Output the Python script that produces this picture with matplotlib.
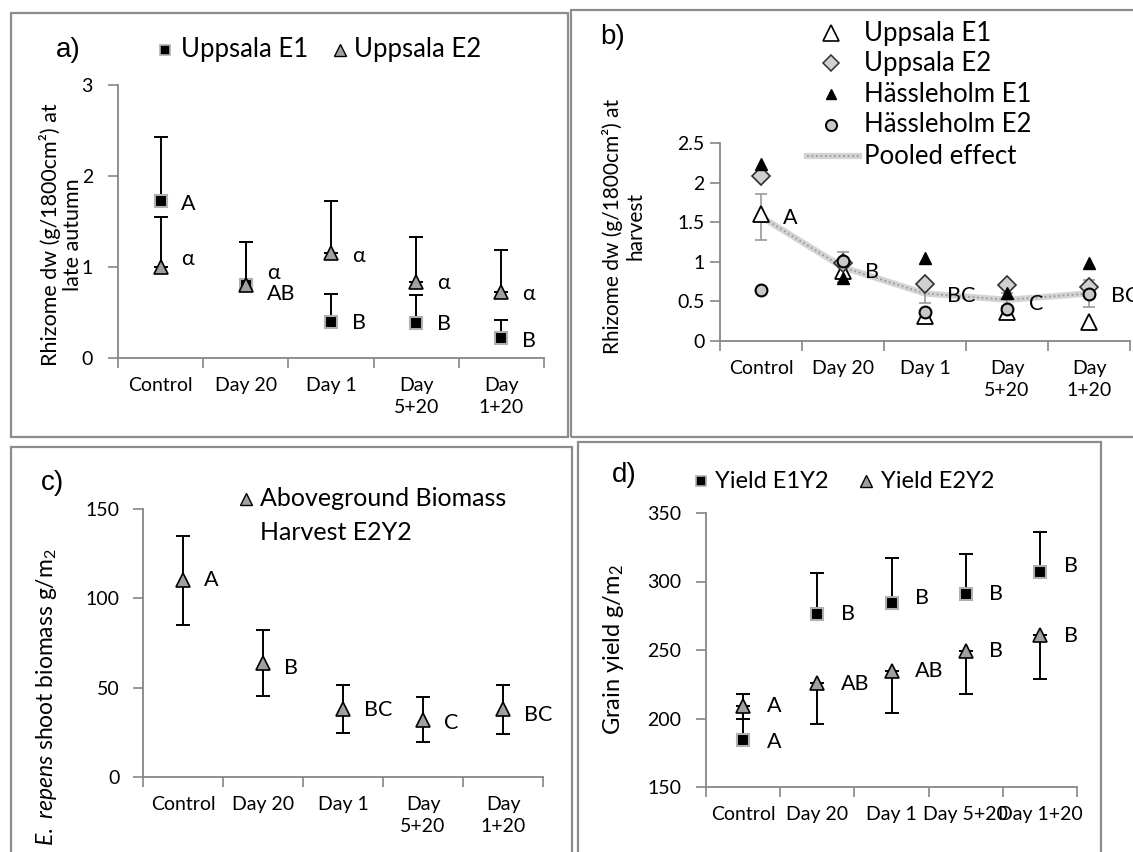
import matplotlib
matplotlib.use("Agg")
import matplotlib.pyplot as plt
from matplotlib.lines import Line2D
from matplotlib.patches import Rectangle
import numpy as np

W, H = 1133, 852

plt.rcParams["font.family"] = ["Lato", "DejaVu Sans"]
plt.rcParams["mathtext.fontset"] = "custom"
plt.rcParams["mathtext.rm"] = "Lato"
plt.rcParams["mathtext.it"] = "Lato:italic"

fs_ticks = 14
fs_text = 15.5
fs_panel = 20
axis_grey = "#868686"
frame_grey = "#8c8c8c"
marker_grey = "#a0a0a0"

# ---------------- data ----------------
categories = ["Control", "Day 20", "Day 1", "Day\n5+20", "Day\n1+20"]
categories_d = ["Control", "Day 20", "Day 1", "Day 5+20", "Day 1+20"]

# a) rhizome dw at late autumn
uppsala_e1_autumn = [1.72, 0.80, 0.40, 0.39, 0.22]
uppsala_e1_autumn_err = [0.71, 0.48, 0.30, 0.30, 0.20]
uppsala_e2_autumn = [1.00, 0.80, 1.15, 0.84, 0.72]
uppsala_e2_autumn_err = [0.55, 0.48, 0.57, 0.49, 0.47]
letters_e1_autumn = ["A", "AB", "B", "B", "B"]
letters_e2_autumn = ["α", "α", "α", "α", "α"]

# b) rhizome dw at harvest
uppsala_e1_harvest = [1.60, 0.88, 0.32, 0.36, 0.24]
uppsala_e2_harvest = [2.08, 0.98, 0.72, 0.71, 0.68]
hassleholm_e1_harvest = [2.24, 0.79, 1.05, 0.60, 0.98]
hassleholm_e2_harvest = [0.65, 1.01, 0.36, 0.40, 0.59]
pooled_harvest = [1.57, 0.93, 0.60, 0.52, 0.60]
pooled_harvest_err = [0.29, 0.19, 0.12, 0.08, 0.17]
letters_pooled = ["A", "B", "BC", "C", "BC"]

# c) aboveground biomass
biomass_e2y2 = [110, 64, 38, 32, 38]
biomass_e2y2_err = [25, 18.5, 13.5, 12.5, 13.7]
letters_biomass = ["A", "B", "BC", "C", "BC"]

# d) grain yield
yield_e1y2 = [184, 276, 284, 291, 307]
yield_e1y2_err = [34, 30, 33, 29, 29]
yield_e2y2 = [209, 226, 235, 249, 261]
yield_e2y2_err = [9, 30, 31, 31, 32]
letters_yield_e1 = ["A", "B", "B", "B", "B"]
letters_yield_e2 = ["A", "AB", "AB", "B", "B"]

# vertical nudges of the letters (points)
nudge_a_e1 = [-2, -6, -1, -1, -2]
nudge_a_e2 = [6, 9, -2, -1, -1]
nudge_b = [-1, -3, -2, -3, -2]
nudge_c = [0, -4, -1, -2, -4]
nudge_d_e1 = [-1, 0, 4, 0, 4]
nudge_d_e2 = [0, -1, 0, 0, -1]

fig = plt.figure(figsize=(W / 100, H / 100), dpi=100)


def fxy(x, y):
    return x / W, 1 - y / H


def px_axes(left, top, right, bottom):
    return fig.add_axes([left / W, 1 - bottom / H, (right - left) / W, (bottom - top) / H])


def style_axes(ax, cats, ylim, yticks, ypad):
    ax.set_xlim(-0.5, 4.5)
    ax.set_ylim(ylim)
    ax.set_yticks(yticks)
    ax.set_yticklabels([f"{t:g}" for t in yticks])
    ax.set_xticks(np.arange(-0.5, 5, 1))
    ax.set_xticklabels([])
    ax.set_xticks(range(5), minor=True)
    ax.set_xticklabels(cats, minor=True)
    ax.tick_params(axis="x", which="major", length=7, width=1.2, color=axis_grey)
    ax.tick_params(axis="x", which="minor", length=0, pad=14, labelsize=fs_ticks)
    ax.tick_params(axis="y", length=7, width=1.2, color=axis_grey, labelsize=fs_ticks, pad=ypad)
    for lab in ax.get_xticklabels(minor=True):
        lab.set_linespacing(1.3)
    for side in ["top", "right"]:
        ax.spines[side].set_visible(False)
    for side in ["left", "bottom"]:
        ax.spines[side].set_color(axis_grey)
        ax.spines[side].set_linewidth(1.3)
    ax.patch.set_alpha(0)


def letters(ax, values, texts, nudges, dx=15):
    for i, (v, t, n) in enumerate(zip(values, texts, nudges)):
        ax.annotate(t, (i, v), xytext=(dx, n), textcoords="offset points",
                    ha="left", va="center", fontsize=fs_text, annotation_clip=False)


def legend_marker(xp, yp, **style):
    fig.add_artist(Line2D([xp / W], [1 - yp / H], transform=fig.transFigure, **style))


# chart frames
for (l, t, r, b) in [(11, 13, 568, 437), (571, 10, 1145, 437),
                     (11, 447, 572, 870), (578, 442, 1101, 870)]:
    fig.patches.append(Rectangle(fxy(l, b), (r - l) / W, (b - t) / H,
                                 transform=fig.transFigure, fill=False,
                                 edgecolor=frame_grey, lw=1.6))

x = np.arange(5)
zeros = np.zeros(5)
ebar = dict(fmt="none", ecolor="black", elinewidth=1.4, capsize=5, capthick=1.4)

# -----------------------------
# --------- a) late autumn
# -----------------------------
ax_a = px_axes(118, 85, 544, 358)
style_axes(ax_a, categories, (0, 3), [0, 1, 2, 3], 11)
ax_a.errorbar(x, uppsala_e1_autumn, yerr=[zeros, uppsala_e1_autumn_err], zorder=2, **ebar)
ax_a.errorbar(x, uppsala_e2_autumn, yerr=[zeros, uppsala_e2_autumn_err], zorder=2, **ebar)
ax_a.plot(x, uppsala_e1_autumn, "s", ms=9, mfc="black", mec="#b0b0b0", mew=1.5, zorder=3)
ax_a.plot(x, uppsala_e2_autumn, "^", ms=10.5, mfc=marker_grey, mec="black", mew=1.2, zorder=4)
letters(ax_a, uppsala_e1_autumn, letters_e1_autumn, nudge_a_e1)
letters(ax_a, uppsala_e2_autumn, letters_e2_autumn, nudge_a_e2)

fig.text(*fxy(68, 50), "a)", family="Liberation Sans", fontsize=fs_panel, ha="center", va="center")
legend_marker(165, 50, marker="s", ms=7.5, mfc="black", mec="#b0b0b0", mew=1.2)
fig.text(*fxy(181, 50), "Uppsala E1", fontsize=18.5, ha="left", va="center")
legend_marker(340, 50, marker="^", ms=8.5, mfc=marker_grey, mec="black", mew=1.0)
fig.text(*fxy(354, 50), "Uppsala E2", fontsize=18.5, ha="left", va="center")
fig.text(*fxy(61, 235), "Rhizome dw (g/1800cm²) at\nlate autumn", fontsize=15.5,
         rotation=90, ha="center", va="center", multialignment="center", linespacing=1.15)

# -----------------------------
# --------- b) harvest
# -----------------------------
ax_b = px_axes(720, 143, 1130, 341)
style_axes(ax_b, categories, (0, 2.5), [0, 0.5, 1, 1.5, 2, 2.5], 4)
ax_b.plot(x, pooled_harvest, "-", color="#d4d4d4", lw=4.5, zorder=1)
ax_b.plot(x, pooled_harvest, color="#9a9a9a", lw=1.3, ls=(0, (1, 1.5)), zorder=1.1)
ax_b.errorbar(x, pooled_harvest, yerr=pooled_harvest_err, fmt="none", ecolor="#9a9a9a",
              elinewidth=1.2, capsize=4, capthick=1.2, zorder=1.2)
ax_b.plot(x, uppsala_e1_harvest, "^", ms=11.5, mfc="white", mec="black", mew=1.3, zorder=3)
ax_b.plot(x, uppsala_e2_harvest, "D", ms=9, mfc="#d0d0d0", mec="#303030", mew=1.2, zorder=4)
ax_b.plot(x, hassleholm_e1_harvest, "^", ms=8.5, mfc="black", mec="black", mew=1, zorder=5)
ax_b.plot(x, hassleholm_e2_harvest, "o", ms=8.5, mfc="#c8c8c8", mec="black", mew=1.5, zorder=6)
letters(ax_b, pooled_harvest, letters_pooled, nudge_b, dx=16)

fig.text(*fxy(613, 37), "b)", family="Liberation Sans", fontsize=fs_panel, ha="center", va="center")
leg_rows = [33, 63, 94, 125]
leg_names = ["Uppsala E1", "Uppsala E2", "Hässleholm E1", "Hässleholm E2"]
leg_styles = [dict(marker="^", ms=11, mfc="white", mec="black", mew=1.2),
              dict(marker="D", ms=8, mfc="#d0d0d0", mec="#303030", mew=1.1),
              dict(marker="^", ms=7.5, mfc="black", mec="black", mew=1),
              dict(marker="o", ms=8, mfc="#c8c8c8", mec="black", mew=1.4)]
for yy, name, st in zip(leg_rows, leg_names, leg_styles):
    legend_marker(831, yy, **st)
    fig.text(*fxy(864, yy), name, fontsize=18.5, ha="left", va="center")
fig.add_artist(Line2D([807 / W, 859 / W], [1 - 156 / H] * 2, color="#d4d4d4", lw=4.5,
                      transform=fig.transFigure))
fig.add_artist(Line2D([807 / W, 859 / W], [1 - 156 / H] * 2, color="#9a9a9a", lw=1.3,
                      ls=(0, (1, 1.5)), transform=fig.transFigure))
fig.text(*fxy(864, 156), "Pooled effect", fontsize=18.5, ha="left", va="center")
fig.text(*fxy(624, 226), "Rhizome dw (g/1800cm²) at\nharvest", fontsize=15,
         rotation=90, ha="center", va="center", multialignment="center", linespacing=1.15)

# -----------------------------
# --------- c) aboveground biomass
# -----------------------------
ax_c = px_axes(143, 509, 543, 777)
style_axes(ax_c, categories, (0, 150), [0, 50, 100, 150], 10)
ax_c.errorbar(x, biomass_e2y2, yerr=biomass_e2y2_err, zorder=2, **ebar)
ax_c.plot(x, biomass_e2y2, "^", ms=10.5, mfc=marker_grey, mec="black", mew=1.2, zorder=4)
letters(ax_c, biomass_e2y2, letters_biomass, nudge_c)

fig.text(*fxy(53, 483), "c)", family="Liberation Sans", fontsize=fs_panel, ha="center", va="center")
legend_marker(246, 499, marker="^", ms=9, mfc=marker_grey, mec="black", mew=1.0)
fig.text(*fxy(260, 499), "Aboveground Biomass", fontsize=18, ha="left", va="center")
fig.text(*fxy(260, 532), "Harvest E2Y2", fontsize=18, ha="left", va="center")
fig.text(*fxy(47, 697), r"$\it{E.\ repens}$ shoot biomass g/m$_2$", fontsize=16.5,
         rotation=90, ha="center", va="center")

# -----------------------------
# --------- d) grain yield
# -----------------------------
ax_d = px_axes(706, 513, 1077, 787)
style_axes(ax_d, categories_d, (150, 350), [150, 200, 250, 300, 350], 11)
ax_d.errorbar(x, yield_e1y2, yerr=[zeros, yield_e1y2_err], zorder=2, **ebar)
ax_d.errorbar(x, yield_e2y2, yerr=[yield_e2y2_err, zeros], zorder=2, **ebar)
ax_d.plot(x, yield_e1y2, "s", ms=9, mfc="black", mec="#b0b0b0", mew=1.5, zorder=3)
ax_d.plot(x, yield_e2y2, "^", ms=10.5, mfc=marker_grey, mec="black", mew=1.2, zorder=4)
letters(ax_d, yield_e1y2, letters_yield_e1, nudge_d_e1, dx=17)
letters(ax_d, yield_e2y2, letters_yield_e2, nudge_d_e2, dx=17)

fig.text(*fxy(624, 475), "d)", family="Liberation Sans", fontsize=fs_panel, ha="center", va="center")
legend_marker(701, 481, marker="s", ms=7.5, mfc="black", mec="#b0b0b0", mew=1.2)
fig.text(*fxy(715, 481), "Yield E1Y2", fontsize=17, ha="left", va="center")
legend_marker(866, 481, marker="^", ms=8.5, mfc=marker_grey, mec="black", mew=1.0)
fig.text(*fxy(881, 481), "Yield E2Y2", fontsize=17, ha="left", va="center")
fig.text(*fxy(613, 650), "Grain yield g/m$_2$", fontsize=17,
         rotation=90, ha="center", va="center")

fig.savefig("out.png", dpi=100)
